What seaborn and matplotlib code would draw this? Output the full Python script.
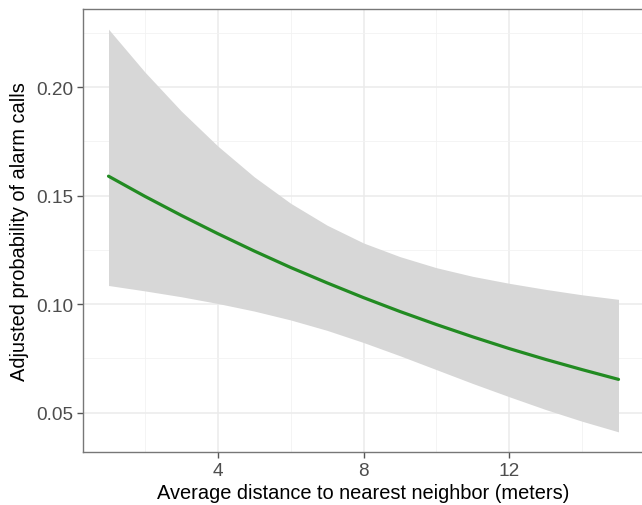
"""Adjusted probability of alarm calls vs. distance to nearest neighbor."""

import matplotlib

matplotlib.use("Agg")
import matplotlib.pyplot as plt
import pandas as pd
import seaborn as sns

# values
distance = [1, 2, 3, 4, 5, 6, 7, 8, 9, 10, 11, 12, 13, 14, 15]
prob = [0.159, 0.1497, 0.1409, 0.1325, 0.1245, 0.1169, 0.1098, 0.103,
        0.0966, 0.0906, 0.0849, 0.0795, 0.0745, 0.0698, 0.0653]
upper = [0.2268, 0.207, 0.189, 0.1729, 0.1587, 0.1465, 0.1364, 0.1282,
         0.1219, 0.1168, 0.1128, 0.1096, 0.1068, 0.1043, 0.1022]
lower = [0.1086, 0.1061, 0.1034, 0.1003, 0.0968, 0.0927, 0.0879, 0.0823,
         0.0762, 0.0698, 0.0634, 0.0573, 0.0514, 0.046, 0.0411]
x_ticks = [4, 8, 12]
y_ticks = [0.05, 0.10, 0.15, 0.20]

df = pd.DataFrame({"distance": distance, "prob": prob,
                   "upper": upper, "lower": lower})

sns.set_theme(style="white")
plt.rcParams["font.family"] = ["Liberation Sans", "DejaVu Sans"]

fig = plt.figure(figsize=(6.42, 5.06), dpi=100)
ax = fig.add_axes([83 / 642, 1 - 453 / 506, 561 / 642, 443 / 506])

ax.fill_between(df["distance"], df["lower"], df["upper"],
                color="#D7D7D7", linewidth=0, zorder=2)
sns.lineplot(data=df, x="distance", y="prob", ax=ax, color="#228B22",
             linewidth=2.3, zorder=3)

x_pad = 0.05 * (max(distance) - min(distance))
y_pad = 0.05 * (max(upper) - min(lower))
ax.set_xlim(min(distance) - x_pad, max(distance) + x_pad)
ax.set_ylim(min(lower) - y_pad, max(upper) + y_pad)

ax.set_xticks(x_ticks)
ax.set_xticklabels([str(t) for t in x_ticks])
ax.set_yticks(y_ticks)
ax.set_yticklabels([f"{t:.2f}" for t in y_ticks])
ax.set_xticks([2, 6, 10, 14], minor=True)
ax.set_yticks([0.075, 0.125, 0.175, 0.225], minor=True)

ax.grid(True, which="major", color="#EBEBEB", linewidth=1.1, zorder=0)
ax.grid(True, which="minor", color="#F2F2F2", linewidth=0.6, zorder=0)
ax.set_axisbelow(True)

ax.tick_params(axis="both", which="major", length=4, width=1,
               color="#555555", labelsize=13.7, labelcolor="#4D4D4D", pad=3,
               left=True, bottom=True)
ax.tick_params(axis="both", which="minor", length=0)

for side in ["left", "bottom", "top", "right"]:
    ax.spines[side].set_color("#777777")
    ax.spines[side].set_linewidth(1.0)

ax.set_xlabel("Average distance to nearest neighbor (meters)",
              fontsize=14.4, color="black", labelpad=3)
ax.set_ylabel("Adjusted probability of alarm calls",
              fontsize=14.4, color="black", labelpad=5)

fig.savefig("out.png", dpi=100)
